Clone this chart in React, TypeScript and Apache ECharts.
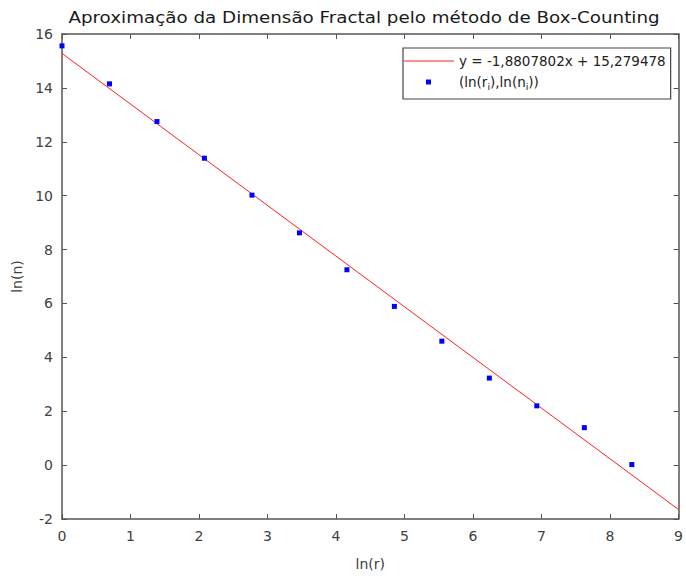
import React, { useEffect, useRef } from "react";
import * as echarts from "echarts";

const lnR = [0, 0.693, 1.386, 2.079, 2.773, 3.466, 4.159, 4.852, 5.545, 6.238, 6.931, 7.625, 8.318];
const lnN = [15.56, 14.15, 12.75, 11.39, 10.02, 8.62, 7.25, 5.89, 4.6, 3.23, 2.2, 1.39, 0.02];
const slope = -1.8807802;
const intercept = 15.279478;
const fitX = [0, 9];
const titleText = "Aproximação da Dimensão Fractal pelo método de Box-Counting";
const fitName = "y = -1,8807802x + 15,279478";
const ptsName = "(ln(r_i),ln(n_i))";

const svgIcon = (inner: string) =>
  "image://data:image/svg+xml;utf8," +
  encodeURIComponent(
    '<svg xmlns="http://www.w3.org/2000/svg" width="50" height="6" viewBox="0 0 50 6">' + inner + "</svg>"
  );
const squareIcon = svgIcon('<rect x="22" y="0.5" width="5" height="5" fill="#0000ff"/>');
const lineIcon = svgIcon('<line x1="0" y1="3" x2="50" y2="3" stroke="#ff2020" stroke-width="1.2"/>');

export default function App() {
  const ref = useRef<HTMLDivElement>(null);
  useEffect(() => {
    const chart = echarts.init(ref.current!, undefined, { renderer: "svg" });
    const font = "DejaVu Sans";
    const axisColor = "#555";
    const labelColor = "#404040";
    const baseAxis = {
      min: 0,
      max: 9,
      interval: 1,
      axisLine: { show: true, onZero: false, lineStyle: { color: axisColor, width: 1.5 } },
      axisTick: { show: true, inside: true, length: 5, lineStyle: { color: axisColor } },
      splitLine: { show: false },
    };
    const baseY = {
      min: -2,
      max: 16,
      interval: 2,
      axisLine: { show: true, onZero: false, lineStyle: { color: axisColor, width: 1.5 } },
      axisTick: { show: true, inside: true, length: 5, lineStyle: { color: axisColor } },
      splitLine: { show: false },
    };
    chart.setOption({
      animation: false,
      backgroundColor: "#fff",
      graphic: [
        {
          type: "text",
          x: 364,
          y: 18,
          scaleX: 1.22,
          style: {
            text: titleText,
            fontFamily: font,
            fontSize: 15,
            fontWeight: 500,
            fill: "#1a1a1a",
            align: "center",
            verticalAlign: "middle",
          },
        },
      ],
      grid: { left: 62, right: 3, top: 34, bottom: 54 },
      legend: {
        left: 403,
        top: 48,
        orient: "vertical",
        borderColor: "#444",
        borderWidth: 1.2,
        padding: [6, 5, 8, 1],
        itemGap: 7,
        itemWidth: 50,
        itemHeight: 6,
        textStyle: {
          fontFamily: font,
          fontSize: 13.5,
          color: "#222",
          rich: {
            s: { fontFamily: font, fontSize: 9.5, color: "#222", padding: [8, 0, 0, 0] },
          },
        },
        formatter: (name: string) =>
          name === ptsName ? "(ln(r{s|i}),ln(n{s|i}))" : name,
        data: [
          { name: fitName, icon: lineIcon },
          { name: ptsName, icon: squareIcon },
        ],
      },
      xAxis: [
        {
          ...baseAxis,
          type: "value",
          position: "bottom",
          name: "ln(r)",
          nameLocation: "middle",
          nameGap: 38,
          nameTextStyle: { fontFamily: font, fontSize: 14, color: labelColor },
          axisLabel: { fontFamily: font, fontSize: 14, color: labelColor, margin: 10 },
        },
        { ...baseAxis, type: "value", position: "top", axisLabel: { show: false } },
      ],
      yAxis: [
        {
          ...baseY,
          type: "value",
          position: "left",
          name: "ln(n)",
          nameLocation: "middle",
          nameGap: 38,
          nameTextStyle: { fontFamily: font, fontSize: 14, color: labelColor },
          axisLabel: { fontFamily: font, fontSize: 14, color: labelColor, margin: 9 },
        },
        { ...baseY, type: "value", position: "right", axisLabel: { show: false } },
      ],
      series: [
        {
          name: fitName,
          type: "line",
          data: fitX.map((x) => [x, slope * x + intercept]),
          symbol: "none",
          showSymbol: false,
          lineStyle: { color: "#ff2020", width: 1 },
          itemStyle: { color: "#ff2020" },
          z: 2,
        },
        {
          name: ptsName,
          type: "scatter",
          data: lnR.map((x, i) => [x, lnN[i]]),
          symbol: "rect",
          symbolSize: 5,
          itemStyle: { color: "#0000ff", opacity: 1 },
          z: 3,
        },
      ],
    });
    return () => chart.dispose();
  }, []);
  return (
    <div
      ref={ref}
      style={{ position: "fixed", left: 0, top: 0, width: 686, height: 576 }}
    />
  );
}
